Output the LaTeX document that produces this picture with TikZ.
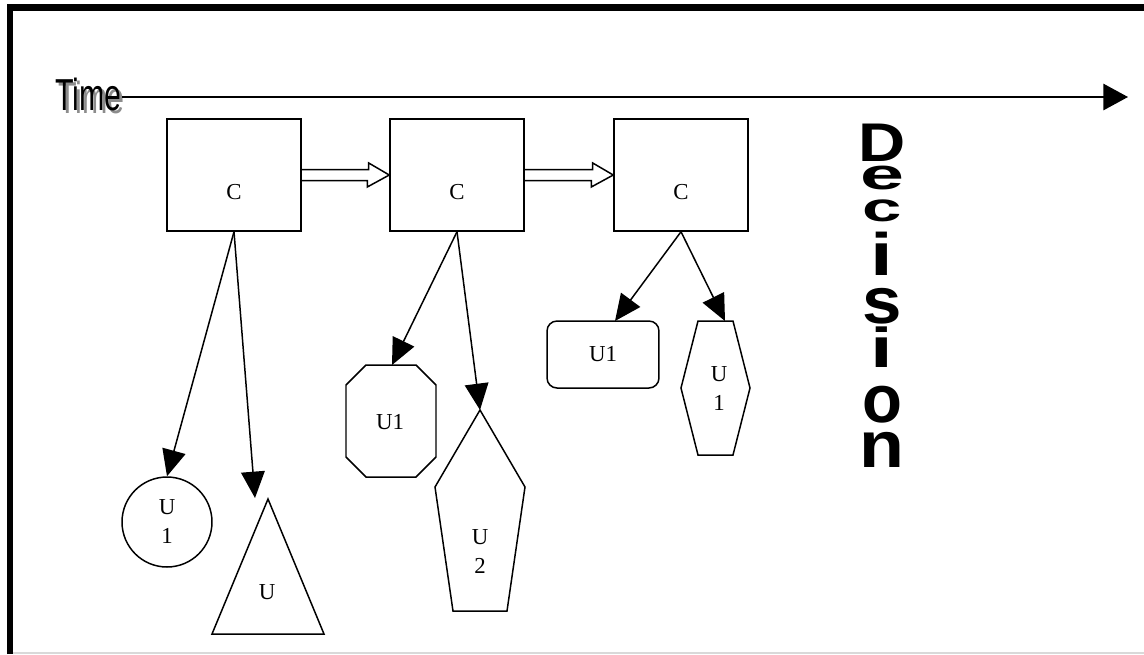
\documentclass[tikz,border=0pt]{standalone}
\usepackage{fontspec}
\usepackage{graphicx}
\setmainfont{Liberation Serif}
\newfontfamily\axisfont{Liberation Sans}
\newfontfamily\heavysans{Liberation Sans}
\usetikzlibrary{arrows.meta,calc}

\begin{document}
\begin{tikzpicture}[x=0.02cm,y=-0.02cm,
  edge/.style={line width=0.85pt},
  link/.style={edge, -{Triangle[length=15pt,width=13.5pt]}},
  shp/.style={draw, line width=0.85pt},
  lbl/.style={font=\fontsize{13}{16.5}\selectfont, align=center, inner sep=0pt},
  cbox/.style={shp, minimum width=2.68cm, minimum height=2.24cm, inner sep=0pt},
  timetext/.style={font=\axisfont\fontsize{25.5}{25.5}\selectfont, anchor=base west, inner sep=0pt},
  declbl/.style={font=\heavysans\bfseries\fontsize{31}{31}\selectfont, anchor=base, inner sep=0pt}
]
\useasboundingbox (0,0) rectangle (1144,654);

% frame
\draw[line width=3.6pt] (10,654) -- (10,7.5) -- (1144,7.5);
\draw[black!15, line width=0.6pt] (13,653) -- (1144,653);

% time axis with shadowed label
\node[timetext, black!45] (timeshadow) at (58,113) {\scalebox{0.68}[1]{Time}};
\node[timetext] (time) at (55,110) {\scalebox{0.68}[1]{Time}};
\coordinate (tend) at (1128,97);
\draw[edge, -{Triangle[length=14pt,width=15pt]}] (time.east |- tend) -- (tend);

% decision stages
\node[cbox, label={[lbl,yshift=-0.34cm]center:C}] (c1) at (234,175) {};
\node[cbox, label={[lbl,yshift=-0.34cm]center:C}] (c2) at (457,175) {};
\node[cbox, label={[lbl,yshift=-0.34cm]center:C}] (c3) at (681,175) {};

% hollow arrows between stages
\draw[shp] (c1.east) ++(0,-5.5) -- ++(67,0) -- ++(0,-6.5) -- (c2.west)
  -- ++(-22,12) -- ++(0,-6.5) -- ++(-67,0);
\draw[shp] (c2.east) ++(0,-5.5) -- ++(68,0) -- ++(0,-6.5) -- (c3.west)
  -- ++(-22,12) -- ++(0,-6.5) -- ++(-68,0);

% stage 1 outcomes
\node[shp, circle, minimum size=1.8cm, lbl] (u1) at (167,522) {U\\1};
\draw[shp] (268,499) -- (324,634) -- (212,634) -- cycle;
\node[lbl] (u2) at (267,592) {U};
\coordinate (u2top) at (255,498);

% stage 2 outcomes
\draw[shp] (366,365) -- (416,365) -- (436,385) -- (436,457) -- (416,477)
  -- (366,477) -- (346,457) -- (346,385) -- cycle;
\node[lbl] (u3) at (390,422) {U1};
\coordinate (u3top) at (392,365);
\draw[shp] (480,410) -- (525,487) -- (507,611) -- (453,611) -- (435,487) -- cycle;
\node[lbl] (u4) at (480,552) {U\\2};
\coordinate (u4top) at (480,410);

% stage 3 outcomes
\node[shp, rounded corners=0.2cm, minimum width=2.24cm, minimum height=1.34cm, lbl] (u5) at (603,354.5) {U1};
\coordinate (u5top) at (615,321);
\draw[shp] (698,321) -- (733,321) -- (750,388) -- (733,455) -- (698,455) -- (681,388) -- cycle;
\node[lbl] (u6) at (719,389) {U\\1};
\coordinate (u6top) at (725,321);

% links from stages to outcomes
\draw[link] (c1.south) -- (u1.north);
\draw[link] (c1.south) -- (u2top);
\draw[link] (c2.south) -- (u3top);
\draw[link] (c2.south) -- (u4top);
\draw[link] (c3.south) -- (u5top);
\draw[link] (c3.south) -- (u6top);

% vertical caption, one stretched letter per line
\foreach \l/\b/\sx/\sy [count=\k] in
  {D/161/1.2/1, e/189/1.45/0.8, c/221/1.3/0.74, i/275/1.5/1.1,
   s/323/1.3/1.2, i/367/1.5/1.03, o/422/1.2/1.24, n/467/1.35/1.2}
  \node[declbl] (dec\k) at (882,\b) {\scalebox{\sx}[\sy]{\l}};
\end{tikzpicture}
\end{document}
